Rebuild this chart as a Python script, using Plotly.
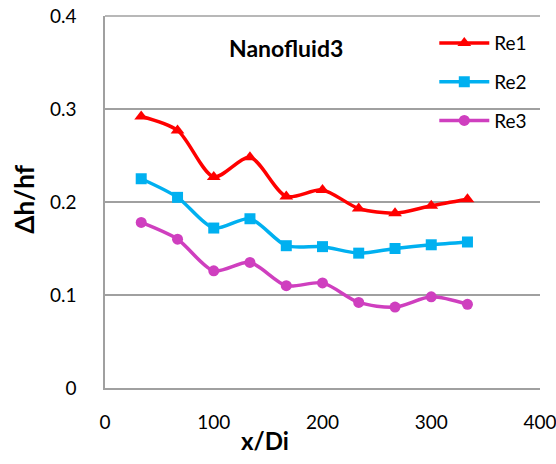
import plotly.graph_objects as go

x_vals = [33.3, 66.7, 100, 133.3, 166.7, 200, 233.3, 266.7, 300, 333.3]
re1 = [0.292, 0.277, 0.227, 0.248, 0.206, 0.213, 0.193, 0.188, 0.196, 0.203]
re2 = [0.225, 0.205, 0.172, 0.182, 0.153, 0.152, 0.145, 0.150, 0.154, 0.157]
re3 = [0.178, 0.160, 0.126, 0.135, 0.110, 0.113, 0.092, 0.087, 0.098, 0.090]
names = ["Re1", "Re2", "Re3"]
colors = ["#FF0000", "#00B0F0", "#CF3FBF"]
symbols = ["triangle-up", "square", "circle"]
x_ticks = [0, 100, 200, 300, 400]
y_ticks = [0, 0.1, 0.2, 0.3, 0.4]
y_tick_text = ["0", "0.1", "0.2", "0.3", "0.4"]

fig = go.Figure()
for i, (name, ys) in enumerate(zip(names, [re1, re2, re3])):
    fig.add_trace(go.Scatter(
        x=x_vals, y=ys, name=name, mode="lines+markers",
        line=dict(color=colors[i], width=3.5, shape="spline", smoothing=0.8),
        marker=dict(symbol=symbols[i], size=12 if i == 0 else 11, color=colors[i]),
        legendgroup=name,
    ))

font_family = "Lato, 'Open Sans', sans-serif"
fig.update_layout(
    width=556, height=464,
    margin=dict(l=105, r=16, t=16, b=76),
    plot_bgcolor="white", paper_bgcolor="white",
    font=dict(family=font_family, size=19, color="black"),
    showlegend=True,
    legend=dict(x=0.757, y=0.978, xanchor="left", yanchor="top",
                bgcolor="rgba(0,0,0,0)", font=dict(size=19),
                tracegroupgap=11, itemwidth=50),
    xaxis=dict(range=[0, 400], tickvals=x_ticks, showgrid=False,
               showline=True, linecolor="#a0a0a0", linewidth=1.5,
               ticks="", ticklabelstandoff=16, zeroline=False, automargin=False,
               ticklabeloverflow="allow"),
    yaxis=dict(range=[0, 0.4], tickvals=y_ticks, ticktext=y_tick_text,
               showgrid=True, gridcolor="#a0a0a0", gridwidth=1.5,
               showline=True, linecolor="#a0a0a0", linewidth=1.5,
               ticks="", ticklabelstandoff=23, zeroline=False, automargin=False,
               ticklabeloverflow="allow"),
    annotations=[
        dict(text="<b>Nanofluid3</b>", x=0.417, y=0.914, xref="paper", yref="paper",
             xanchor="center", yanchor="middle", showarrow=False, font=dict(size=23)),
        dict(text="<b>x/Di</b>", x=0.3685, y=-0.14, xref="paper", yref="paper",
             xanchor="center", yanchor="middle", showarrow=False, font=dict(size=24)),
        dict(text="<b>Δh/hf</b>", x=-0.187, y=0.508, xref="paper", yref="paper",
             xanchor="center", yanchor="middle",
             textangle=-90, showarrow=False, font=dict(size=26)),
    ],
)
fig.add_shape(type="line", xref="paper", yref="paper", x0=0, x1=1, y0=1, y1=1,
              line=dict(color="#a0a0a0", width=1.5))

fig.write_html("out.html")
